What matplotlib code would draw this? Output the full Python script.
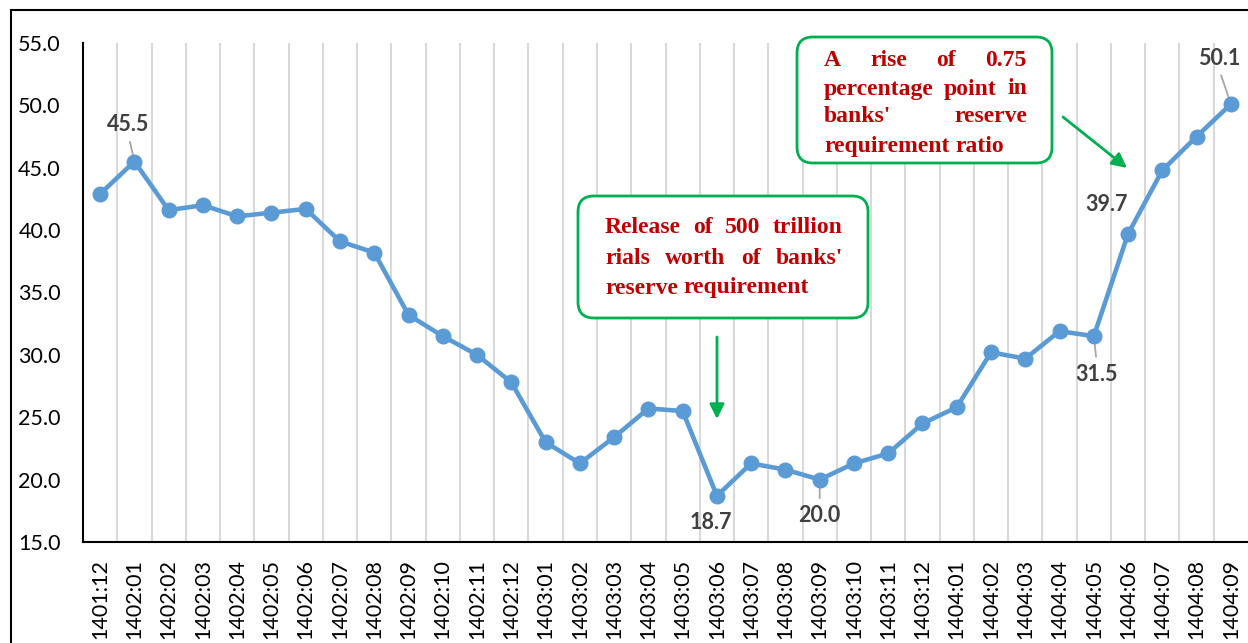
import matplotlib.pyplot as plt
from matplotlib.patches import FancyBboxPatch, Rectangle
from matplotlib.transforms import IdentityTransform
import numpy as np

months = ['1401:12',
          '1402:01', '1402:02', '1402:03', '1402:04', '1402:05', '1402:06',
          '1402:07', '1402:08', '1402:09', '1402:10', '1402:11', '1402:12',
          '1403:01', '1403:02', '1403:03', '1403:04', '1403:05', '1403:06',
          '1403:07', '1403:08', '1403:09', '1403:10', '1403:11', '1403:12',
          '1404:01', '1404:02', '1404:03', '1404:04', '1404:05', '1404:06',
          '1404:07', '1404:08', '1404:09']
values = [42.9,
          45.5, 41.6, 42.0, 41.1, 41.4, 41.7,
          39.1, 38.2, 33.2, 31.5, 30.0, 27.8,
          23.0, 21.3, 23.4, 25.7, 25.5, 18.7,
          21.3, 20.8, 20.0, 21.3, 22.1, 24.5,
          25.8, 30.2, 29.7, 31.9, 31.5, 39.7,
          44.8, 47.5, 50.1]
yticks = [15, 20, 25, 30, 35, 40, 45, 50, 55]

# labelled points: month -> (dx, dy) offset in pixels, leader line?
labelled = {'1402:01': (-6, 37, True), '1403:06': (-6, -27, False),
            '1403:09': (0, -36, True), '1404:05': (3, -38, True),
            '1404:06': (-21, 29, False), '1404:09': (-12, 46, True)}

note1_lines = [['Release', 'of', '500', 'trillion'],
               ['rials', 'worth', 'of', "banks'"],
               ['reserve', 'requirement']]
note2_lines = [['A', 'rise', 'of', '0.75'],
               ['percentage', 'point', 'in'],
               ["banks'", 'reserve'],
               ['requirement', 'ratio']]

blue = '#5B9BD5'
green = '#00B050'
red = '#C00000'
lbl_font = 'Lato'

fig = plt.figure(figsize=(12.48, 6.43), dpi=100)
ax = fig.add_axes([83 / 1248, 1 - 542 / 643, 1 - 83 / 1248, (542 - 43) / 643])

x = np.arange(len(months))
ax.plot(x, values, color=blue, lw=3.3, marker='o', ms=10.5, zorder=4)

ax.set_xlim(-0.5, len(months) - 0.5)
ax.set_ylim(15, 55)
ax.set_yticks(yticks)
ax.set_yticklabels([f'{v:.1f}' for v in yticks], fontfamily=lbl_font, fontsize=15.5)
ax.set_xticks(x)
ax.set_xticklabels(months, rotation=90, fontfamily=lbl_font, fontsize=15.5)
ax.tick_params(axis='both', length=0)
ax.tick_params(axis='y', pad=16)
ax.tick_params(axis='x', pad=12)
for b in np.arange(0.5, len(months) - 0.5, 1):
    ax.axvline(b, color='#D9D9D9', lw=1.5, zorder=0)
for s in ['top', 'right']:
    ax.spines[s].set_visible(False)
for s in ['left', 'bottom']:
    ax.spines[s].set_linewidth(1.5)

for m, (dx, dy, line) in labelled.items():
    i = months.index(m)
    ap = None
    if line:
        ap = dict(arrowstyle='-', color='#A6A6A6', lw=1.3, shrinkA=3, shrinkB=0,
                  relpos=(0.5, 0) if dy > 0 else (0.5, 1))
    ax.annotate(f'{values[i]:.1f}', (i, values[i]), xytext=(dx, dy),
                textcoords='offset pixels', ha='center', va='center',
                fontsize=15.5, fontweight='bold', color='#404040',
                fontfamily=lbl_font, arrowprops=ap, annotation_clip=False,
                zorder=3)

# outer frame of the original picture
fig.patches.append(Rectangle((11 / 1248, -0.1), 1.2, 1 - 10 / 643 + 0.1,
                             transform=fig.transFigure, fill=False,
                             edgecolor='black', lw=1.5))


def to_data(xp, yp):
    # picture pixel (from top-left) -> data coords
    return ax.transData.inverted().transform((xp, 643 - yp))


def note_box(x0, y0, x1, y1):
    box = FancyBboxPatch((x0, 643 - y1), x1 - x0, y1 - y0,
                         boxstyle='round,pad=0,rounding_size=16',
                         fc='white', ec=green, lw=2, zorder=5,
                         transform=IdentityTransform())
    fig.patches.append(box)


def justified(lines, x0, x1, ys, size):
    r = fig.canvas.get_renderer()
    kw = dict(fontsize=size, fontweight='bold', color=red,
              fontfamily='Liberation Serif', va='center', zorder=6)
    sp = fig.text(0, 0, 'a a', **kw)
    sp2 = fig.text(0, 0, 'aa', **kw)
    space = sp.get_window_extent(r).width - sp2.get_window_extent(r).width
    sp.remove(); sp2.remove()
    for k, (words, yp) in enumerate(zip(lines, ys)):
        ts = [fig.text(0, 0, w, **kw) for w in words]
        ws = [t.get_window_extent(r).width for t in ts]
        last = k == len(lines) - 1
        gap = space if last else (x1 - x0 - sum(ws)) / (len(words) - 1)
        cur = x0
        for t, w in zip(ts, ws):
            t.set_position((cur / 1248, 1 - yp / 643))
            cur += w + gap


note_box(578, 196, 868, 318)
justified(note1_lines, 605, 843, [228, 258, 288], 17)
note_box(797, 37, 1052, 163)
justified(note2_lines, 824, 1027, [61, 89, 117, 146], 17)

ax.annotate('', xy=to_data(717, 419), xytext=to_data(717, 337),
            arrowprops=dict(arrowstyle='-|>', color=green, lw=2,
                            mutation_scale=22, shrinkA=0, shrinkB=0))
ax.annotate('', xy=to_data(1127, 168), xytext=to_data(1063, 117),
            arrowprops=dict(arrowstyle='-|>', color=green, lw=2,
                            mutation_scale=22, shrinkA=0, shrinkB=0),
            annotation_clip=False)

fig.savefig('out.png', dpi=100)
